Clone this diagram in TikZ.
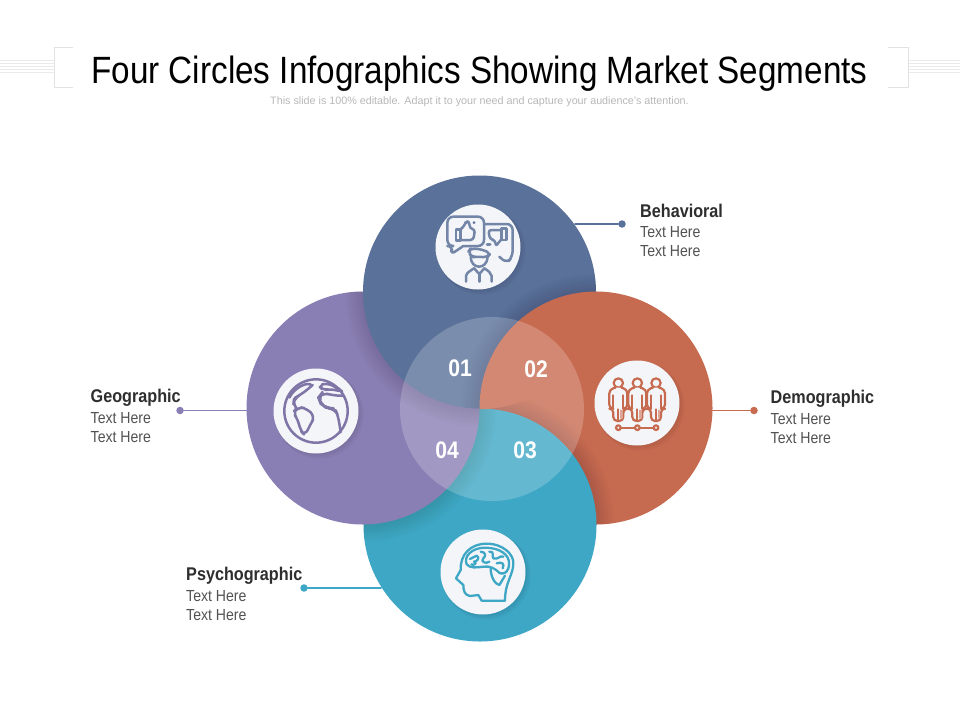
\documentclass[tikz,border=0pt]{standalone}
\usepackage{fontspec}
\setmainfont{Liberation Sans}
\newfontfamily\titlefont[FakeStretch=0.875]{Liberation Sans}
\newfontfamily\labelfont[FakeStretch=0.88]{Liberation Sans}
\definecolor{bluedisk}{HTML}{5A7199}
\definecolor{orangedisk}{HTML}{C76B50}
\definecolor{tealdisk}{HTML}{3EA7C5}
\definecolor{purpledisk}{HTML}{8A7FB4}
\definecolor{iconwhite}{HTML}{F4F5F8}
\definecolor{ruleline}{HTML}{E2E2E2}
\newcommand{\rimshadow}[2]{
\begin{scope}
\clip (#2) circle (116.5);
\foreach \k in {2,4,...,18} \fill [black, opacity = 0.011] (#1) circle (116.5+\k);
\end{scope}
}
\newcommand{\iconbase}[3]{
\foreach \k in {0,1,...,5} \fill [black, opacity = 0.02] (#2+\k*0.7,#3+\k*0.7) circle (42+\k*0.5);
\node [iconcircle] (#1) at (#2,#3) {};
}
\tikzset{
disk/.style = {circle, inner sep = 0, outer sep = 0, minimum size = 233},
iconcircle/.style = {circle, fill = iconwhite, inner sep = 0, outer sep = 0, minimum size = 85},
leaddot/.style = {circle, inner sep = 0, outer sep = 0, minimum size = 7.5},
headlabel/.style = {anchor = west, inner sep = 0, text = black!82, font = \labelfont\bfseries\fontsize{18.4}{20}\selectfont},
textlabel/.style = {anchor = west, inner sep = 0, text = black!68, font = \labelfont\fontsize{16}{18}\selectfont},
numlabel/.style = {inner sep = 0, text = white, font = \labelfont\bfseries\fontsize{24}{26}\selectfont},
}
\begin{document}
\begin{tikzpicture}[x = 1pt, y = -1pt, line cap = round, line join = round]
\useasboundingbox [fill = white] (0,0) rectangle (960,720);
\draw [color = ruleline] (73,47) -- (54,47) -- (54,87) -- (73,87);
\draw [color = ruleline] (888,47) -- (908,47) -- (908,87) -- (888,87);
\foreach \y in {60,63,...,72} {
\draw [color = ruleline, opacity = 0.7] (0,\y) -- (54,\y);
\draw [color = ruleline, opacity = 0.7] (908,\y) -- (960,\y);
}
\node [inner sep = 0, text = black] (title) at (479.5,73.5) {\titlefont\fontsize{38}{42}\selectfont Four Circles Infographics Showing Market Segments};
\node [inner sep = 0, text = black!28] (subtitle) at (479.5,102) {\fontsize{10.75}{12}\selectfont This slide is 100\% editable. Adapt it to your need and capture your audience's attention.};
\coordinate (bluec) at (479.5,292);
\coordinate (orangec) at (596,408);
\coordinate (tealc) at (480,525);
\coordinate (purplec) at (363,408);
\node [disk, fill = orangedisk] (orange) at (orangec) {};
\rimshadow{tealc}{orangec}
\node [disk, fill = tealdisk] (teal) at (tealc) {};
\rimshadow{purplec}{tealc}
\node [disk, fill = purpledisk] (purple) at (purplec) {};
\rimshadow{bluec}{purplec}
\node [disk, fill = bluedisk] (blue) at (bluec) {};
\rimshadow{orangec}{bluec}
\begin{scope}
\clip (bluec) circle (117.2);
\fill [orangedisk] (orangec) circle (116.5);
\end{scope}
\node [circle, fill = white, opacity = 0.2, inner sep = 0, minimum size = 184] (centerdisk) at (492,409) {};
\node [numlabel] (num1) at (460,368.5) {01};
\node [numlabel] (num2) at (536,369.5) {02};
\node [numlabel] (num3) at (525,450.5) {03};
\node [numlabel] (num4) at (447,450.5) {04};
\node [leaddot, fill = bluedisk] (bluedot) at (622,224) {};
\node [leaddot, fill = orangedisk] (orangedot) at (754,410.5) {};
\node [leaddot, fill = tealdisk] (tealdot) at (304,588) {};
\node [leaddot, fill = purpledisk] (purpledot) at (180,410.5) {};
\draw [bluedisk, line width = 1.4] (bluedot) -- (blue.35.7 |- bluedot);
\draw [orangedisk, line width = 1.4] (orangedot) -- (orange.east |- orangedot);
\draw [tealdisk, line width = 1.4] (tealdot) -- (teal.212.7 |- tealdot);
\draw [purpledisk, line width = 1.4] (purpledot) -- (purple.west |- purpledot);
\foreach \n/\x/\y/\t in {behav/640/210.5/Behavioral, demog/770.5/398.5/Demographic, psycho/186/575.5/Psychographic, geog/90.5/397.5/Geographic}
\node [headlabel] (\n head) at (\x,\y) {\t};
\foreach \n/\x/\y in {behav/640/232, behav/640/251, demog/770.5/419, demog/770.5/438, psycho/186/596, psycho/186/615, geog/90.5/418, geog/90.5/437}
\node [textlabel] (\n\y) at (\x,\y) {Text Here};
\iconbase{behavicon}{478}{247}
\iconbase{geogicon}{316}{411}
\iconbase{demogicon}{637}{403}
\iconbase{psychoicon}{483}{572}
\begin{scope}[shift = {(440,210)}, scale = 1/3, draw = bluedisk!85!white, line width = 2.5]
\draw [rounded corners = 6] (132,42) -- (218,42) -- (218,140) -- (200,160) -- (178,140);
\draw [rounded corners = 6] (70,108) -- (132,108) -- (132,20) -- (22,20) -- (22,108) -- (40,108) -- (30,135) -- (70,108);
\draw (48,58) rectangle (62,92);
\draw [rounded corners = 3] (62,58) -- (75,45) -- (78,32) -- (90,38) -- (88,55) -- (105,58) -- (100,90) -- (62,90);
\fill [bluedisk] (102,38) circle (4.5);
\draw (185,55) rectangle (200,90);
\draw [rounded corners = 3] (185,60) -- (145,60) -- (150,88) -- (165,90) -- (168,110) -- (176,96) -- (185,88);
\draw [line width = 3] (141,102) -- (150,102);
\fill [iconwhite] (115,147) ellipse (40 and 32);
\draw (92,140) .. controls (92,180) and (142,180) .. (143,140);
\draw [rounded corners = 4] (95,142) -- (85,125) -- (92,115) -- (125,118) -- (152,130) -- (142,142) -- (110,140) -- cycle;
\draw (78,215) -- (78,198) .. controls (80,188) and (90,183) .. (102,175);
\draw (155,215) -- (155,198) .. controls (153,188) and (145,183) .. (133,175);
\draw (102,175) -- (118,192) -- (133,175);
\draw (118,192) -- (118,215);
\end{scope}
\begin{scope}[shift = {(280,375)}, scale = 1/3, draw = purpledisk!92!black, line width = 2.5]
\draw (108,108) circle (95);
\draw [rounded corners = 6] (28,68) .. controls (40,45) and (65,28) .. (102,26) -- (85,42) -- (60,60) -- (42,70) -- (40,90) -- (46,97);
\draw [rounded corners = 6] (38,112) -- (55,96) -- (80,100) -- (105,125) -- (90,150) -- (75,182) -- (60,165) -- (55,135) -- cycle;
\draw [rounded corners = 5] (115,32) -- (140,24) -- (175,40) -- (187,50) -- (150,42) -- (130,46) -- cycle;
\draw [rounded corners = 7] (190,62) -- (160,62) -- (127,52) -- (115,68) -- (122,86) -- (140,100) -- (165,100) -- (175,125) -- (182,172);
\end{scope}
\begin{scope}[shift = {(600,372)}, scale = 1/3, draw = orangedisk, line width = 2.2]
\foreach \x in {55,112,168} {
\draw (\x,33) circle (14);
\draw [rounded corners = 4, fill = iconwhite] (\x-9,47) -- (\x-27,52) -- (\x-27,110) -- (\x-15,110) -- (\x-15,147) -- (\x+15,147) -- (\x+15,110) -- (\x+27,110) -- (\x+27,52) -- (\x+9,47);
\draw (\x,112) -- (\x,147);
\draw (\x-15,70) -- (\x-15,110);
\draw (\x+15,70) -- (\x+15,110);
\draw [orangedisk!60!white, line width = 1.5] (\x+7,115) -- (\x+7,138);
\draw [orangedisk!60!white, line width = 1.5] (\x+11,115) -- (\x+11,138);
}
\draw (62,167) -- (105,167);
\draw (119,167) -- (161,167);
\foreach \x in {55,112,168} \draw (\x,167) circle (7);
\end{scope}
\begin{scope}[shift = {(450,535)}, scale = 1/3, draw = tealdisk, line width = 2.3]
\draw (95,197) -- (85,180) -- (60,183) .. controls (45,180) and (40,170) .. (40,150) -- (18,130) -- (32,105) .. controls (30,60) and (60,26) .. (110,26) .. controls (160,26) and (192,60) .. (190,85) .. controls (190,120) and (165,140) .. (165,197) -- cycle;
\draw (50,88) .. controls (40,65) and (65,38) .. (105,38) .. controls (150,38) and (180,60) .. (177,88) .. controls (176,110) and (165,118) .. (150,115) .. controls (135,100) and (120,92) .. (100,95) .. controls (80,98) and (60,100) .. (50,88);
\draw (122,100) .. controls (122,125) and (135,148) .. (148,150) -- (165,122);
\draw (60,72) -- (80,62) .. controls (92,68) and (80,80) .. (72,80) .. controls (85,85) and (70,92) .. (64,88);
\draw (92,50) .. controls (105,50) and (110,62) .. (100,70) .. controls (90,80) and (108,88) .. (118,80);
\draw (118,50) .. controls (135,48) and (125,65) .. (130,70) .. controls (145,75) and (150,60) .. (160,65);
\draw (140,85) .. controls (155,80) and (165,85) .. (158,100);
\end{scope}
\end{tikzpicture}
\end{document}
